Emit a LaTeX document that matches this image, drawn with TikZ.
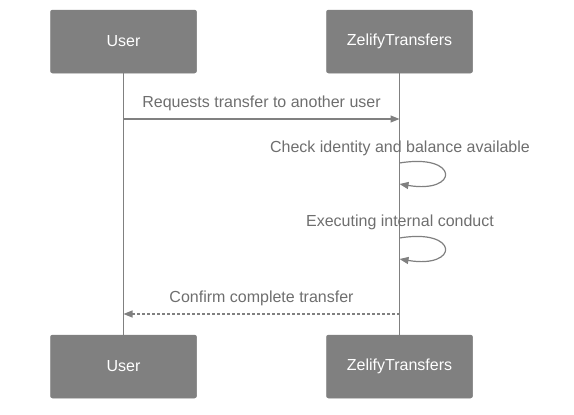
\documentclass[tikz,border=0pt]{standalone}
\usepackage{fontspec}
\setmainfont{Liberation Sans}
\usepackage{tikz}
\usetikzlibrary{arrows.meta, positioning, calc}
\definecolor{actorgray}{RGB}{128,128,128}
\definecolor{linegray}{RGB}{128,128,128}
\definecolor{textgray}{RGB}{110,110,110}
\tikzset{
  actor/.style={rectangle, draw=actorgray, fill=actorgray, text=white,
    minimum width=146pt, minimum height=63pt, inner sep=0pt,
    font=\fontsize{16}{18}\selectfont, rounded corners=2pt, line width=0.5pt},
  lifeline/.style={line width=1.2pt, color=linegray},
  msgarrow/.style={-{Triangle[length=9pt,width=7pt]}, line width=1.2pt, color=linegray},
  replyarrow/.style={-{Triangle[length=9pt,width=7pt]}, line width=1.2pt, color=linegray,
    dash pattern=on 3pt off 2pt},
  msglabel/.style={font=\fontsize{16}{18}\selectfont, text=textgray, inner sep=0pt}
}

\begin{document}
\begin{tikzpicture}[x=1pt, y=-1pt]
  \useasboundingbox (0,0) rectangle (574,415);

  % participants
  \node[actor] (user) at (123.5,41.5) {User};
  \node[actor] (zelify) at (399.5,41.5) {ZelifyTransfers};
  \node[actor] (userb) at (123.5,366.5) {User};
  \node[actor] (zelifyb) at (399.5,366.5) {ZelifyTransfers};

  % lifelines
  \draw[lifeline] (user) -- (userb);
  \draw[lifeline] (zelify) -- (zelifyb);

  % points on the lifelines
  \coordinate (u1) at (123.5,119);
  \coordinate (z1) at (399.5,119);
  \coordinate (z2) at (399.5,163);
  \coordinate (z3) at (399.5,184);
  \coordinate (z4) at (399.5,238);
  \coordinate (z5) at (399.5,259);
  \coordinate (z6) at (399.5,314);
  \coordinate (u6) at (123.5,314);

  % messages
  \draw[msgarrow] (u1) -- (z1)
    node[msglabel, midway, yshift=16pt] {Requests transfer to another user};

  \node[msglabel] (check) at (400,148) {Check identity and balance available};
  \draw[msgarrow] (z2) .. controls ++(60,-10) and ++(60,10) .. (z3);

  \node[msglabel] (exec) at (400,222) {Executing internal conduct};
  \draw[msgarrow] (z4) .. controls ++(60,-10) and ++(60,10) .. (z5);

  \draw[replyarrow] (z6) -- (u6)
    node[msglabel, midway, yshift=16pt] {Confirm complete transfer};
\end{tikzpicture}
\end{document}
